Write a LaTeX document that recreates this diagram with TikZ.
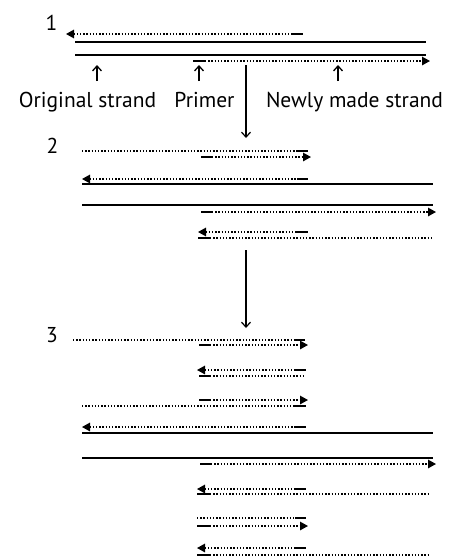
\documentclass[tikz,border=0pt]{standalone}
\usepackage{fontspec}
\setmainfont{PT Sans}
\usetikzlibrary{arrows.meta}
\tikzset{
strand/.style={line width=2.2pt},
copy/.style={line width=1.4pt, dash pattern=on 1.4pt off 1.8pt},
primer/.style={line width=2.7pt},
stagelbl/.style={inner sep=0pt, font=\fontsize{21.5}{24}\selectfont},
strandlbl/.style={inner sep=0pt, anchor=base, font=\fontsize{21.5}{24}\selectfont},
lblarrow/.style={line width=1.3pt, -{Straight Barb[length=5pt,width=9pt]}},
stagearrow/.style={line width=1.2pt, -{Straight Barb[length=5pt,width=9pt]}},
>={Triangle[length=8pt,width=8.5pt]},
}

\begin{document}
\begin{tikzpicture}[x=1pt, y=-1pt]
\useasboundingbox (0,0) rectangle (451,557);

% cycle 1
\node[stagelbl] (s1) at (51.5,23) {1};
\draw[copy,<-] (66,34) -- (292,34);
\draw[primer] (292,34) -- (303,34);
\draw[strand] (75,42) -- (426,42);
\draw[strand] (75,55) -- (426,55);
\draw[primer] (193,61) -- (205,61);
\draw[copy,->] (205,61) -- (430,61);

\node[strandlbl] (orig) at (87.5,107) {Original strand};
\node[strandlbl] (prim) at (204.5,107) {Primer};
\node[strandlbl] (newly) at (354.5,107) {Newly made strand};
\coordinate (orig-pt) at (97,65);
\coordinate (prim-pt) at (199,65);
\coordinate (newly-pt) at (338,65);
\coordinate (orig-foot) at (97,81);
\coordinate (prim-foot) at (199,81);
\coordinate (newly-foot) at (338,81);
\draw[lblarrow] (orig-foot) -- (orig-pt);
\draw[lblarrow] (prim-foot) -- (prim-pt);
\draw[lblarrow] (newly-foot) -- (newly-pt);

\coordinate (g1top) at (246,65);
\coordinate (g1bot) at (246,138);
\draw[stagearrow] (g1top) -- (g1bot);

% cycle 2
\node[stagelbl] (s2) at (52.5,145.5) {2};
\draw[copy] (82,151) -- (298,151);
\draw[primer] (298,151) -- (308,151);
\draw[primer] (201,157) -- (212,157);
\draw[copy,->] (212,157) -- (311,157);
\draw[copy,<-] (82,179) -- (297,179);
\draw[primer] (297,179) -- (308,179);
\draw[strand] (82,184) -- (433,184);
\draw[strand] (82,205) -- (433,205);
\draw[primer] (201,212) -- (212,212);
\draw[copy,->] (212,212) -- (436,212);
\draw[copy,<-] (198,232) -- (297,232);
\draw[primer] (297,232) -- (308,232);
\draw[primer] (198,238) -- (210,238);
\draw[copy] (210,238) -- (433,238);

\coordinate (g2top) at (246,250);
\coordinate (g2bot) at (246,328);
\draw[stagearrow] (g2top) -- (g2bot);

% cycle 3
\node[stagelbl] (s3) at (52,335.5) {3};
\draw[copy] (73,340) -- (294,340);
\draw[primer] (294,340) -- (305,340);
\draw[primer] (199,345) -- (210,345);
\draw[copy,->] (210,345) -- (308,345);
\draw[copy,<-] (197,370) -- (295,370);
\draw[primer] (295,370) -- (306,370);
\draw[primer] (199,376) -- (210,376);
\draw[copy] (210,376) -- (305,376);
\draw[primer] (199,400) -- (210,400);
\draw[copy,->] (210,400) -- (308,400);
\draw[copy] (82,406) -- (295,406);
\draw[primer] (295,406) -- (306,406);
\draw[copy,<-] (82,427) -- (295,427);
\draw[primer] (295,427) -- (306,427);
\draw[strand] (82,433) -- (433,433);
\draw[strand] (82,458) -- (433,458);
\draw[primer] (200,464) -- (211,464);
\draw[copy,->] (211,464) -- (436,464);
\draw[copy,<-] (197,489) -- (295,489);
\draw[primer] (295,489) -- (306,489);
\draw[primer] (197,494) -- (210,494);
\draw[copy] (210,494) -- (430,494);
\draw[copy] (197,518) -- (295,518);
\draw[primer] (295,518) -- (306,518);
\draw[primer] (197,526) -- (210,526);
\draw[copy,->] (210,526) -- (308,526);
\draw[copy,<-] (197,548) -- (295,548);
\draw[primer] (295,548) -- (306,548);
\draw[primer] (197,555) -- (210,555);
\draw[copy] (210,555) -- (430,555);
\end{tikzpicture}
\end{document}
